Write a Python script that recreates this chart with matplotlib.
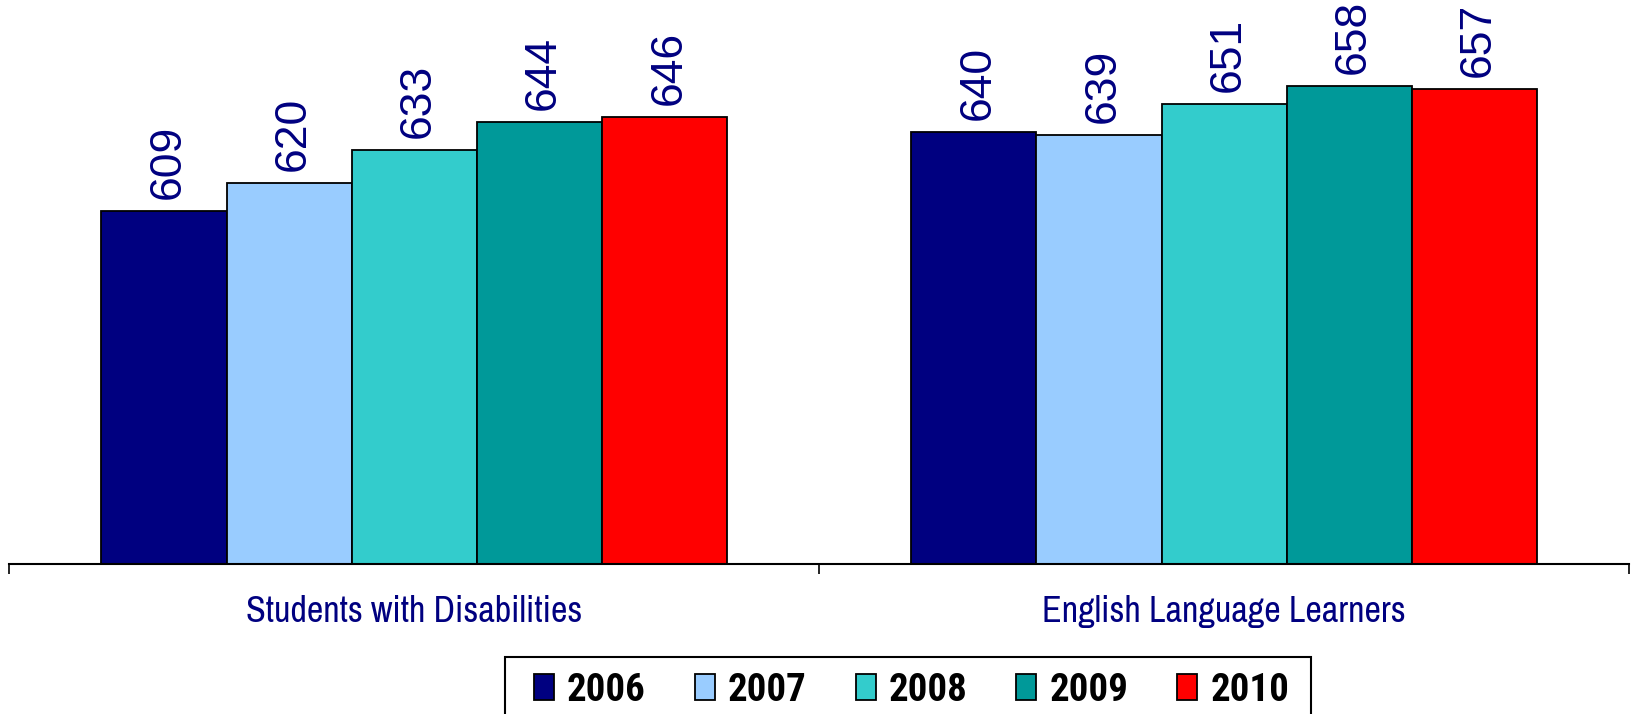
import matplotlib
matplotlib.use("Agg")
import matplotlib.pyplot as plt
from matplotlib.patches import Rectangle
import numpy as np

categories = ["Students with Disabilities", "English Language Learners"]
years = ["2006", "2007", "2008", "2009", "2010"]
values = {
    "2006": [609, 640],
    "2007": [620, 639],
    "2008": [633, 651],
    "2009": [644, 658],
    "2010": [646, 657],
}
colors = ["#000080", "#99CCFF", "#33CCCC", "#009999", "#FF0000"]

cat_font = ["Archivo Narrow", "PT Sans Narrow", "Liberation Sans", "DejaVu Sans"]
leg_font = ["Roboto Condensed", "PT Sans Narrow", "Liberation Sans", "DejaVu Sans"]
navy = "#000080"

W, H = 1636, 714
fig = plt.figure(figsize=(W / 100, H / 100), dpi=100)
ax = fig.add_axes([9.4 / W, 1 - 563.5 / H, (1629 - 9.4) / W, 563.5 / H])

x = np.arange(len(categories))
bw = 0.1546
n = len(years)
for i, (yr, c) in enumerate(zip(years, colors)):
    pos = x + (i - (n - 1) / 2) * bw
    ax.bar(pos, values[yr], width=bw, bottom=0, color=c, edgecolor="black",
           linewidth=1.3, label=yr, zorder=2)
    for p, v in zip(pos, values[yr]):
        ax.annotate(str(v), (p, v), xytext=(3, 8.5), textcoords="offset points",
                    rotation=90, ha="center", va="bottom", color=navy,
                    fontsize=32, family=["Liberation Sans", "DejaVu Sans"])

ax.set_ylim(470, 692)
ax.set_xlim(-0.5, len(categories) - 0.5)
for s in ["top", "right", "left"]:
    ax.spines[s].set_visible(False)
ax.spines["bottom"].set_linewidth(1.5)
ax.set_yticks([])
ax.set_xticks(x)
ax.set_xticklabels(categories, fontsize=26, color=navy, family=cat_font)
ax.tick_params(axis="x", which="major", length=0, pad=23)
ax.set_xticks(np.arange(-0.5, len(categories), 1.0), minor=True)
ax.tick_params(axis="x", which="minor", length=7.5, width=1.2, direction="out")

fs = 28
fs_px = fs * 100 / 72
leg = fig.legend(loc="upper left", bbox_to_anchor=(534 / W, 1 - 672 / H), ncol=5,
                 frameon=False,
                 prop={"family": leg_font, "weight": "bold", "size": fs},
                 handlelength=20 / fs_px, handleheight=25 / fs_px,
                 handletextpad=13 / fs_px, columnspacing=49 / fs_px,
                 borderpad=0, borderaxespad=0)
for h in leg.legend_handles:
    h.set_edgecolor("black")
    h.set_linewidth(1.3)

fig.canvas.draw()
bb = leg.get_window_extent()
pad_l, pad_r, pad_t = 29, 22, 15
frame = Rectangle((bb.x0 - pad_l, -20), bb.width + pad_l + pad_r, bb.y1 + pad_t + 20,
                  transform=None, fill=False, edgecolor="black", linewidth=1.5,
                  zorder=5)
fig.patches.append(frame)

fig.savefig("out.png", dpi=100)
